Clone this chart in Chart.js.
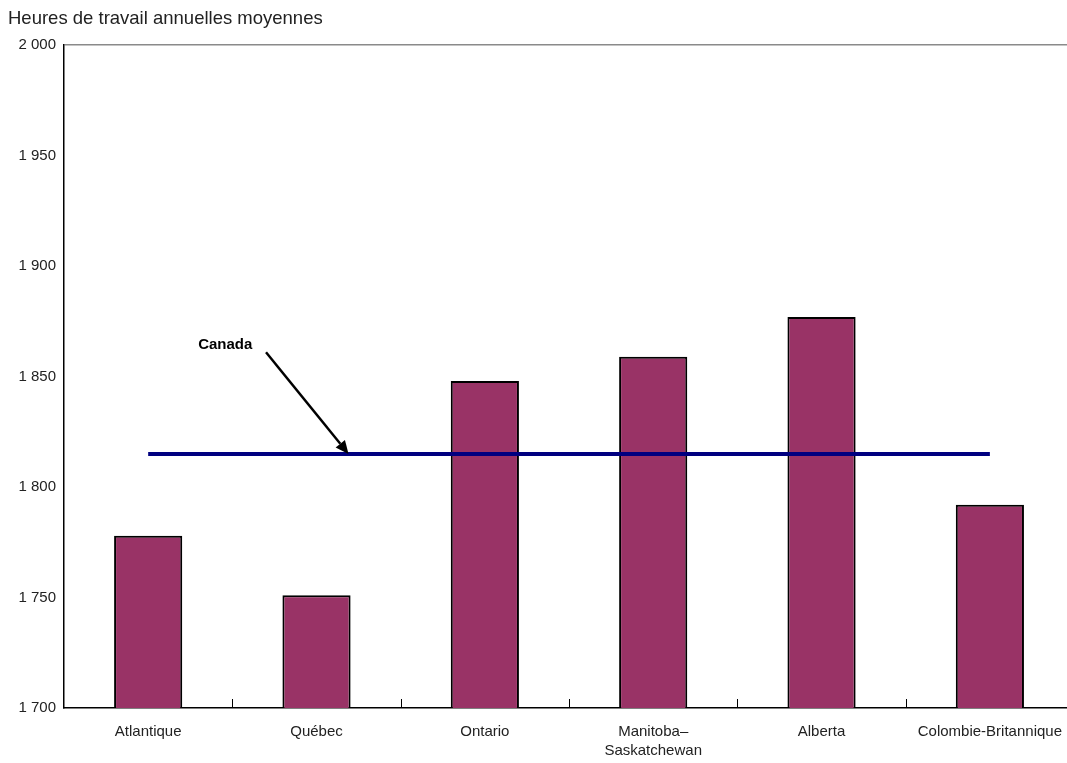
<!DOCTYPE html>
<html>
<head>
<meta charset="utf-8">
<script src="https://cdn.jsdelivr.net/npm/chart.js@4/dist/chart.umd.min.js"></script>
<style>
  html, body { margin: 0; padding: 0; background: #fff; overflow: hidden; }
  #wrap { width: 1076px; height: 763px; }
</style>
</head>
<body>
<div id="wrap"><canvas id="chart" width="1076" height="763"></canvas></div>
<script>
// Régions
const regions = ['Atlantique', 'Québec', 'Ontario', ['Manitoba–', 'Saskatchewan'], 'Alberta', 'Colombie-Britannique'];
// Heures de travail annuelles moyennes par région
const hours = [1778, 1751, 1848, 1859, 1877, 1792];
// Moyenne nationale
const canadaAverage = 1815;
const canadaLine = regions.map(() => canadaAverage);
// Graduations de l'axe vertical
const yTicks = [1700, 1750, 1800, 1850, 1900, 1950, 2000];

// Étiquette « Canada » et sa flèche (coordonnées en unités des axes)
const callout = { text: 'Canada', labelX: 0.458, labelY: 1864.5, fromX: 0.70, fromY: 1861, toX: 1.19, toY: 1815 };

const FONT = "'Liberation Sans', Arial, sans-serif";
const formatHours = v => String(v).replace(/\B(?=(\d{3})+(?!\d))/g, ' ');

// Petits traits verticaux entre les catégories, vers l'intérieur du graphique
const innerTicks = {
  id: 'innerTicks',
  afterDatasetsDraw(chart) {
    const { ctx, chartArea, scales: { x } } = chart;
    ctx.save();
    ctx.strokeStyle = '#000';
    ctx.lineWidth = 1;
    for (let i = 1; i < regions.length; i++) {
      const px = Math.round((x.getPixelForValue(i - 1) + x.getPixelForValue(i)) / 2) + 0.5;
      ctx.beginPath();
      ctx.moveTo(px, chartArea.bottom);
      ctx.lineTo(px, chartArea.bottom - 9);
      ctx.stroke();
    }
    ctx.restore();
  }
};

// Étiquette et flèche pointant vers la ligne de la moyenne canadienne
const calloutPlugin = {
  id: 'callout',
  afterDatasetsDraw(chart) {
    const { ctx, scales: { x, y } } = chart;
    const x0 = x.getPixelForValue(callout.fromX), y0 = y.getPixelForValue(callout.fromY);
    const x1 = x.getPixelForValue(callout.toX), y1 = y.getPixelForValue(callout.toY);
    ctx.save();
    ctx.fillStyle = '#000';
    ctx.font = `bold 15px ${FONT}`;
    ctx.textAlign = 'center';
    ctx.textBaseline = 'middle';
    ctx.fillText(callout.text, x.getPixelForValue(callout.labelX), y.getPixelForValue(callout.labelY));

    const ang = Math.atan2(y1 - y0, x1 - x0);
    const head = 13, half = 6;
    const bx = x1 - head * Math.cos(ang), by = y1 - head * Math.sin(ang);
    ctx.strokeStyle = '#000';
    ctx.lineWidth = 2.5;
    ctx.beginPath();
    ctx.moveTo(x0, y0);
    ctx.lineTo(bx, by);
    ctx.stroke();
    ctx.beginPath();
    ctx.moveTo(x1, y1);
    ctx.lineTo(bx + half * Math.sin(ang), by - half * Math.cos(ang));
    ctx.lineTo(bx - half * Math.sin(ang), by + half * Math.cos(ang));
    ctx.closePath();
    ctx.fill();
    ctx.restore();
  }
};

new Chart(document.getElementById('chart'), {
  data: {
    labels: regions,
    datasets: [
      {
        type: 'line',
        label: 'Canada',
        data: canadaLine,
        borderColor: '#000080',
        borderWidth: 4,
        pointRadius: 0,
        fill: false,
        order: 0
      },
      {
        type: 'bar',
        label: 'Heures',
        data: hours,
        backgroundColor: '#993366',
        borderColor: '#000',
        borderWidth: 2,
        borderSkipped: 'bottom',
        categoryPercentage: 1,
        barPercentage: 0.405,
        order: 1
      }
    ]
  },
  options: {
    responsive: false,
    animation: false,
    devicePixelRatio: 1,
    layout: { padding: { left: 8, right: 0, top: 0, bottom: 0 } },
    plugins: {
      legend: { display: false },
      tooltip: { enabled: false },
      title: {
        display: true,
        text: 'Heures de travail annuelles moyennes',
        align: 'start',
        color: '#222',
        font: { family: FONT, size: 18.5, weight: 'normal' },
        padding: { top: 8, bottom: 15 }
      }
    },
    scales: {
      x: {
        offset: true,
        grid: { display: false, drawTicks: false },
        border: { display: true, color: '#000', width: 1.5 },
        ticks: {
          color: '#222',
          padding: 14,
          maxRotation: 0,
          autoSkip: false,
          font: { family: FONT, size: 15, lineHeight: 1.27 }
        },
        afterFit: s => { s.height = 55; }
      },
      y: {
        min: 1700,
        max: 2000,
        afterBuildTicks: s => { s.ticks = yTicks.map(v => ({ value: v })); },
        grid: {
          drawTicks: false,
          color: c => (c.tick && c.tick.value === 2000 ? '#8a8a8a' : 'rgba(0,0,0,0)'),
          lineWidth: 1.5
        },
        border: { display: true, color: '#000', width: 1.5 },
        ticks: {
          color: '#222',
          padding: 8,
          font: { family: FONT, size: 15 },
          callback: v => formatHours(v)
        },
        afterFit: s => { s.width = 56; }
      }
    }
  },
  plugins: [innerTicks, calloutPlugin]
});
</script>
</body>
</html>
